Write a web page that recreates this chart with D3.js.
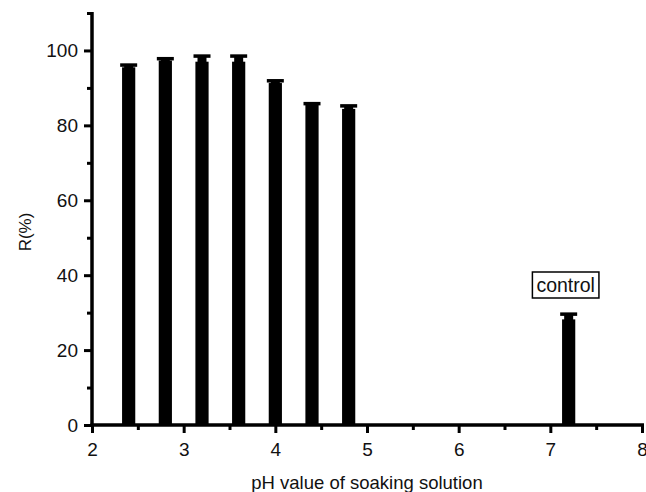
<!DOCTYPE html>
<html>
<head>
<meta charset="utf-8">
<script src="https://cdn.jsdelivr.net/npm/d3@7"></script>
<style>
  html, body { margin: 0; padding: 0; background: #fff; }
  svg { display: block; }
  text { font-family: Arial, "Liberation Sans", sans-serif; fill: #111; }
</style>
</head>
<body>
<div id="chart"></div>
<script>
// ---- data ----
const phValues = [2.4, 2.8, 3.2, 3.6, 4.0, 4.4, 4.8, 7.2];
const rValues  = [95.5, 97.3, 97.0, 97.0, 91.3, 85.5, 84.4, 28.2];
const rErrors  = [0.6, 0.5, 1.5, 1.5, 0.6, 0.3, 0.8, 1.4];
const xMajorTicks = [2, 3, 4, 5, 6, 7, 8];
const xMinorTicks = [2.5, 3.5, 4.5, 5.5, 6.5, 7.5];
const yMajorTicks = [0, 20, 40, 60, 80, 100];
const yMinorTicks = [10, 30, 50, 70, 90, 110];
const controlLabel = "control";
const xTitle = "pH value of soaking solution";
const yTitle = "R(%)";

// ---- layout ----
const W = 646, H = 492;
const mLeft = 92, mRight = 642, mTop = 13, mBottom = 425;

const svg = d3.select("#chart").append("svg").attr("width", W).attr("height", H);

const x = d3.scaleLinear().domain([2, 8]).range([mLeft, mRight]);
const y = d3.scaleLinear().domain([0, 110]).range([mBottom, mTop]);

const halfBar = 0.072; // data units
const barW = x(2 + 2 * halfBar) - x(2);

// bars
const data = phValues.map((p, i) => ({ p, r: rValues[i], e: rErrors[i] }));
svg.append("g").selectAll("rect").data(data).join("rect")
  .attr("x", d => x(d.p) - barW / 2)
  .attr("y", d => y(d.r))
  .attr("width", barW)
  .attr("height", d => y(0) - y(d.r))
  .attr("fill", "#000");

// error bars (upper)
const stemW = 9, capW = 17, capH = 3.5;
const eg = svg.append("g");
eg.selectAll("rect.stem").data(data).join("rect").attr("class", "stem")
  .attr("x", d => x(d.p) - stemW / 2)
  .attr("y", d => y(d.r + d.e))
  .attr("width", stemW)
  .attr("height", d => y(d.r) - y(d.r + d.e) + 1)
  .attr("fill", "#000");
eg.selectAll("rect.cap").data(data).join("rect").attr("class", "cap")
  .attr("x", d => x(d.p) - capW / 2)
  .attr("y", d => y(d.r + d.e) - capH / 2)
  .attr("width", capW)
  .attr("height", capH)
  .attr("fill", "#000");

// axes
const yAxis = d3.axisLeft(y).tickValues(yMajorTicks).tickSize(8).tickPadding(6).tickFormat(d3.format("d"));
const yAxisMinor = d3.axisLeft(y).tickValues(yMinorTicks).tickSize(5).tickFormat("");
const xAxis = d3.axisBottom(x).tickValues(xMajorTicks).tickSize(8).tickPadding(10).tickFormat(d3.format("d"));
const xAxisMinor = d3.axisBottom(x).tickValues(xMinorTicks).tickSize(5).tickFormat("");

function styleAxis(g) {
  g.select(".domain").remove();
  g.selectAll(".tick line").attr("stroke", "#000").attr("stroke-width", 3);
  g.selectAll(".tick text").attr("font-size", 19).attr("fill", "#111")
    .style("font-family", "Arial, 'Liberation Sans', sans-serif");
}

svg.append("g").attr("transform", `translate(${mLeft},0)`).call(yAxisMinor).call(styleAxis);
svg.append("g").attr("transform", `translate(${mLeft},0)`).call(yAxis).call(styleAxis);
svg.append("g").attr("transform", `translate(0,${mBottom})`).call(xAxisMinor).call(styleAxis);
svg.append("g").attr("transform", `translate(0,${mBottom})`).call(xAxis).call(styleAxis);

// axis lines (thick)
svg.append("line").attr("x1", mLeft).attr("x2", mLeft).attr("y1", y(110) - 1).attr("y2", mBottom + 1.5)
  .attr("stroke", "#000").attr("stroke-width", 3.5);
svg.append("line").attr("x1", mLeft - 1.5).attr("x2", mRight + 2).attr("y1", mBottom).attr("y2", mBottom)
  .attr("stroke", "#000").attr("stroke-width", 3.5);

// axis titles
svg.append("text").attr("x", (mLeft + mRight) / 2).attr("y", 489)
  .attr("text-anchor", "middle").attr("font-size", 18.5).text(xTitle);
svg.append("text").attr("transform", `translate(31,${232}) rotate(-90)`)
  .attr("text-anchor", "middle").attr("font-size", 17).text(yTitle);

// control label box
const ctrl = data[data.length - 1];
const cx = x(ctrl.p) - 3;
const lg = svg.append("g");
const lbl = lg.append("text").attr("x", cx).attr("y", 292)
  .attr("text-anchor", "middle").attr("font-size", 19.5).text(controlLabel);
const bb = lbl.node().getBBox();
lg.insert("rect", "text")
  .attr("x", bb.x - 4).attr("y", 272).attr("width", bb.width + 8).attr("height", 26)
  .attr("fill", "#fff").attr("stroke", "#000").attr("stroke-width", 1.5);
</script>
</body>
</html>
